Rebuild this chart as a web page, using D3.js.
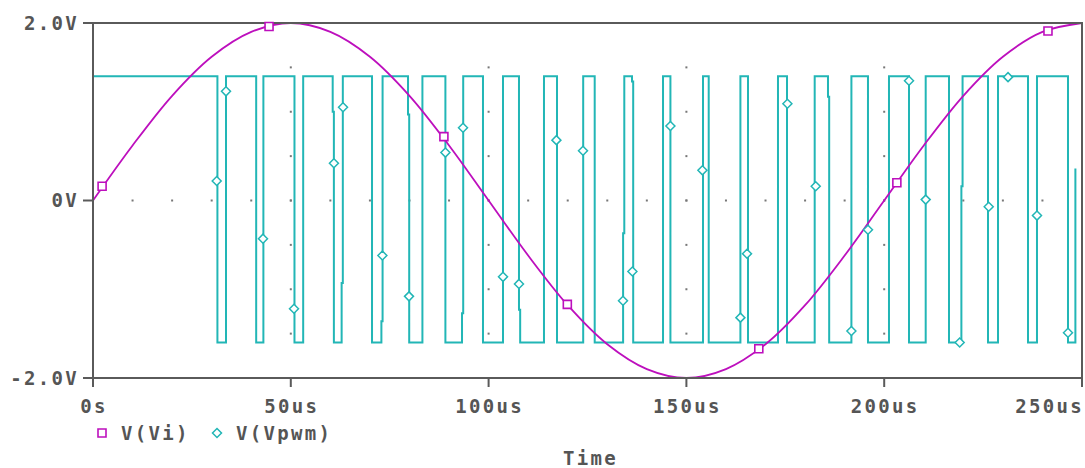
<!DOCTYPE html>
<html>
<head>
<meta charset="utf-8">
<script src="https://cdn.jsdelivr.net/npm/d3@7"></script>
<style>
  body { margin: 0; background: #fff; }
  text { font-family: "DejaVu Sans Mono", monospace; font-weight: bold; fill: #555; letter-spacing: 2.3px; }
</style>
</head>
<body>
<div id="chart"></div>
<script>
// V(Vi) every 10us (us, V)
var viTimes = [0, 10, 20, 30, 40, 50, 60, 70, 80, 90, 100, 110, 120, 130, 140, 150, 160, 170, 180, 190, 200, 210, 220, 230, 240, 250];
var viValues = [0, 0.62, 1.18, 1.62, 1.9, 2.0, 1.9, 1.62, 1.18, 0.62, 0, -0.62, -1.18, -1.62, -1.9, -2.0, -1.9, -1.62, -1.18, -0.62, 0, 0.62, 1.18, 1.62, 1.9, 2.0];
// square markers on V(Vi)
var viMarkers = [[2.3, 0.16], [44.5, 1.96], [88.7, 0.72], [119.9, -1.17], [168.3, -1.67], [203.2, 0.2], [241.4, 1.91]];

// V(Vpwm) levels and switching times, jog = small step on the edge (null if none)
var pwmHigh = 1.4, pwmLow = -1.6;
var pwmEdges = [
  [31.45, null], [33.62, null], [41.25, null], [43.07, null], [50.93, null], [53.13, null],
  [60.59, 1.0], [62.85, -0.93], [70.53, null], [72.9, -1.36], [79.63, 0.97], [83.27, null],
  [89.08, null], [93.28, -1.27], [98.58, null], [103.64, null], [107.68, -1.23], [114.0, null],
  [117.29, null], [123.91, null], [126.82, null], [134.0, -0.37], [136.25, 1.34], [144.09, null],
  [145.96, null], [154.2, null], [155.64, null], [163.65, null], [165.57, null], [173.15, null],
  [175.43, null], [182.43, null], [185.79, 1.17], [191.71, null], [195.9, null], [201.21, null],
  [206.27, null], [210.49, null], [216.38, null], [219.51, 0.16], [226.24, null], [228.77, null],
  [236.35, null], [238.62, null], [246.46, null]
];
var pwmEnd = [248.33, 0.36]; // trace stops half way up the last edge
// diamond markers on V(Vpwm)
var pwmMarkers = [
  [31.27, 0.22], [33.62, 1.23], [42.97, -0.43], [50.81, -1.22], [60.9, 0.42], [63.2, 1.05],
  [73.15, -0.62], [79.88, -1.08], [89.08, 0.54], [93.53, 0.82], [103.64, -0.86], [107.68, -0.94],
  [117.14, 0.68], [123.86, 0.56], [133.97, -1.13], [136.35, -0.8], [145.96, 0.84], [154.05, 0.34],
  [163.65, -1.32], [165.32, -0.6], [175.53, 1.09], [182.69, 0.16], [191.71, -1.47], [195.9, -0.33],
  [206.27, 1.35], [210.49, 0.01], [219.08, -1.6], [226.42, -0.07], [231.3, 1.39], [238.62, -0.17],
  [246.46, -1.49]
];

var yTicks = [2, 0, -2];
var yTickLabels = ["2.0V", "0V", "-2.0V"];
var xTicks = [0, 50, 100, 150, 200, 250];
var xTickLabels = ["0s", "50us", "100us", "150us", "200us", "250us"];
var legendNames = ["V(Vi)", "V(Vpwm)"];

var magenta = "#bd0fbd", cyan = "#22b6b6", axisCol = "#5a5a5a";

var margin = {top: 23, right: 3, bottom: 90, left: 93},
    width = 1085 - margin.left - margin.right,
    height = 468 - margin.top - margin.bottom;

var svg = d3.select("#chart")
  .append("svg")
    .attr("width", 1085)
    .attr("height", 468)
  .append("g")
    .attr("transform", "translate(" + margin.left + "," + margin.top + ")");

var x = d3.scaleLinear().domain([0, 250]).range([0, width]);
var y = d3.scaleLinear().domain([-2, 2]).range([height, 0]);

// dotted grid: along 0V every 10us, along each 50us every 0.5V
var gridDots = [];
d3.range(10, 250, 10).forEach(function(t) { gridDots.push([t, 0]); });
[50, 100, 150, 200].forEach(function(t) {
  d3.range(-1.5, 2, 0.5).forEach(function(v) { gridDots.push([t, v]); });
});
svg.selectAll("rect.dot")
  .data(gridDots)
  .join("rect")
    .attr("class", "dot")
    .attr("x", function(d) { return x(d[0]) - 1; })
    .attr("y", function(d) { return y(d[1]) - 1; })
    .attr("width", 2)
    .attr("height", 2)
    .attr("fill", "#777");

// build the PWM step path from the edge list
var pwmPts = [[0, pwmHigh]];
var level = pwmHigh;
pwmEdges.forEach(function(e) {
  var t = e[0];
  pwmPts.push([t, level]);
  if (e[1] !== null) {
    pwmPts.push([t, e[1]]);
    t = t + 0.3;
    pwmPts.push([t, e[1]]);
  }
  level = (level == pwmHigh) ? pwmLow : pwmHigh;
  pwmPts.push([t, level]);
});
pwmPts.push([pwmEnd[0], level]);
pwmPts.push(pwmEnd);

var line = d3.line()
  .x(function(d) { return x(d[0]); })
  .y(function(d) { return y(d[1]); });

svg.append("path")
  .attr("d", line(pwmPts))
  .attr("fill", "none")
  .attr("stroke", cyan)
  .attr("stroke-width", 2);

var viLine = d3.line()
  .x(function(d, i) { return x(viTimes[i]); })
  .y(function(d) { return y(d); })
  .curve(d3.curveCatmullRom);

svg.append("path")
  .attr("d", viLine(viValues))
  .attr("fill", "none")
  .attr("stroke", magenta)
  .attr("stroke-width", 1.8);

// frame + ticks
svg.append("rect")
  .attr("x", 0).attr("y", 0)
  .attr("width", width).attr("height", height)
  .attr("fill", "none")
  .attr("stroke", axisCol)
  .attr("stroke-width", 2);

svg.selectAll("line.ytick")
  .data(yTicks)
  .join("line")
    .attr("class", "ytick")
    .attr("x1", -10).attr("x2", 0)
    .attr("y1", function(d) { return y(d); })
    .attr("y2", function(d) { return y(d); })
    .attr("stroke", axisCol).attr("stroke-width", 2);

svg.selectAll("text.ylab")
  .data(yTicks)
  .join("text")
    .attr("class", "ylab")
    .attr("x", -14)
    .attr("y", function(d) { return y(d); })
    .attr("dy", "0.36em")
    .attr("text-anchor", "end")
    .style("font-size", "19px")
    .text(function(d, i) { return yTickLabels[i]; });

svg.selectAll("line.xtick")
  .data(xTicks)
  .join("line")
    .attr("class", "xtick")
    .attr("y1", height).attr("y2", height + 9)
    .attr("x1", function(d) { return x(d); })
    .attr("x2", function(d) { return x(d); })
    .attr("stroke", axisCol).attr("stroke-width", 2);

svg.selectAll("text.xlab")
  .data(xTicks)
  .join("text")
    .attr("class", "xlab")
    .attr("x", function(d, i) { return i == xTicks.length - 1 ? x(d) + 2 : x(d) + 1; })
    .attr("y", height + 35)
    .attr("text-anchor", function(d, i) { return i == xTicks.length - 1 ? "end" : "middle"; })
    .style("font-size", "19px")
    .text(function(d, i) { return xTickLabels[i]; });

// markers: open square and a square diamond (d3's diamond is too tall)
var sq = d3.symbol().type(d3.symbolSquare).size(64);
var dia = "M0,-4.5L4.5,0L0,4.5L-4.5,0Z";

svg.selectAll("path.vim")
  .data(viMarkers)
  .join("path")
    .attr("class", "vim")
    .attr("d", sq)
    .attr("transform", function(d) { return "translate(" + x(d[0]) + "," + y(d[1]) + ")"; })
    .attr("fill", "#fff")
    .attr("stroke", magenta)
    .attr("stroke-width", 1.6);

svg.selectAll("path.pwmm")
  .data(pwmMarkers)
  .join("path")
    .attr("class", "pwmm")
    .attr("d", dia)
    .attr("transform", function(d) { return "translate(" + x(d[0]) + "," + y(d[1]) + ")"; })
    .attr("fill", "#fff")
    .attr("stroke", cyan)
    .attr("stroke-width", 1.5);

// legend
var leg = svg.append("g").attr("transform", "translate(0," + (height + 55) + ")");
leg.append("path").attr("d", sq).attr("transform", "translate(9,0)")
  .attr("fill", "#fff").attr("stroke", magenta).attr("stroke-width", 1.6);
leg.append("text").attr("x", 28).attr("dy", "0.36em").style("font-size", "19px").text(legendNames[0]);
leg.append("path").attr("d", dia).attr("transform", "translate(124,0)")
  .attr("fill", "#fff").attr("stroke", cyan).attr("stroke-width", 1.5);
leg.append("text").attr("x", 143).attr("dy", "0.36em").style("font-size", "19px").text(legendNames[1]);

// axis title
svg.append("text")
  .attr("x", x(125) + 3)
  .attr("y", height + 87)
  .attr("text-anchor", "middle")
  .style("font-size", "19px")
  .text("Time");
</script>
</body>
</html>
